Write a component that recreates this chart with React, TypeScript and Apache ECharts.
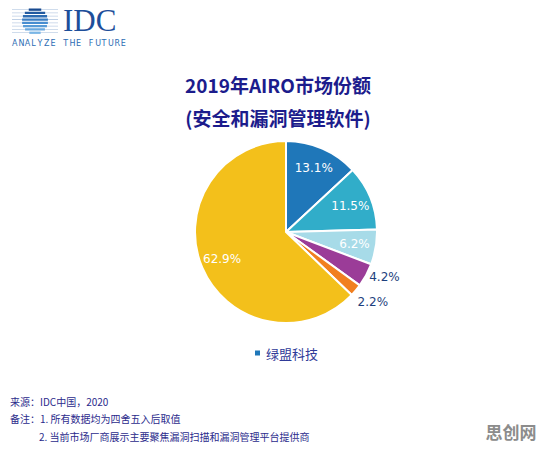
import React, { useEffect, useRef } from "react";
import * as echarts from "echarts";

const categories = ["绿盟科技", "厂商B", "厂商C", "厂商D", "厂商E", "其他"];
const shares = [13.1, 11.5, 6.2, 4.2, 2.2, 62.9];
const colors = ["#1f77b9", "#31adc9", "#a7dbe8", "#9b3c98", "#f17f1f", "#f3c01b"];
const legendShown = ["绿盟科技"];
const titleLines = ["2019年AIRO市场份额", "(安全和漏洞管理软件)"];
const notes = ["来源：IDC中国，2020", "备注：1. 所有数据均为四舍五入后取值", "2. 当前市场厂商展示主要聚焦漏洞扫描和漏洞管理平台提供商"];
const outsideIdx = [3, 4];

export default function App() {
  const ref = useRef<HTMLDivElement>(null);
  useEffect(() => {
    if (!ref.current) return;
    const chart = echarts.init(ref.current, null, { renderer: "svg" });
    const CX = 286, CY = 232, R = 91;
    const fmt = (p: any) => p.value.toFixed(1) + "%";

    const mainData = categories.map((n, i) => ({
      name: n,
      value: shares[i],
      itemStyle: { color: colors[i] },
      label: outsideIdx.includes(i)
        ? { show: true, position: "outside", color: "#1d3f7d", fontSize: 12, fontFamily: "DejaVu Sans", distanceToLabelLine: 0 }
        : { show: false },
      labelLine: { show: false, length: 3.5, length2: 0 },
    }));
    const ringData = categories.map((n, i) => ({
      name: n,
      value: shares[i],
      itemStyle: { color: "rgba(0,0,0,0)", borderWidth: 0 },
      label: { show: !outsideIdx.includes(i) },
    }));

    // logo
    const logo: any[] = [];
    const scx = 35, scy = 21, sr = 13;
    for (let i = 0; i < 8; i++) {
      const y = 8.5 + i * 3.3;
      logo.push({ type: "rect", shape: { x: 12, y: y + 0.7, width: 46, height: 0.8 }, style: { fill: "#bfd0e6" } });
      const d = y + 1.1 - scy;
      if (Math.abs(d) < sr) {
        const w = 2 * Math.sqrt(sr * sr - d * d);
        const t = i / 7;
        const c = echarts.color.lerp(t, ["#17498f", "#3f86cc", "#7ab6e6"]);
        logo.push({ type: "rect", shape: { x: scx - w / 2, y, width: w, height: 2.3 }, style: { fill: c } });
      }
    }
    logo.push({
      type: "text", x: 63, y: 20,
      style: { text: "IDC", font: "31px 'Liberation Serif'", fill: "#1d4e9a", verticalAlign: "middle", lineHeight: 24 },
    });
    const tag = "ANALYZE THE FUTURE";
    for (let i = 0; i < tag.length; i++) {
      if (tag[i] === " ") continue;
      logo.push({
        type: "text", x: 12 + i * 6.4, y: 43,
        style: { text: tag[i], font: "8px 'DejaVu Sans'", fill: "#2c6db4", verticalAlign: "middle" },
      });
    }

    const texts: any[] = [
      ...titleLines.map((t, i) => ({
        type: "text", x: 278, y: 84 + i * 33,
        style: { text: t, font: "bold 19px 'Noto Sans CJK SC'", fill: "#1c1c8c", align: "center", verticalAlign: "middle" },
      })),
      ...notes.map((t, i) => ({
        type: "text", x: i === 2 ? 39 : 10, y: 401 + i * 17.5,
        style: { text: t, font: "10px 'Noto Sans CJK SC'", fill: "#2b2b8c", verticalAlign: "middle" },
      })),
      {
        type: "text", x: 511, y: 431,
        style: { text: "思创网", font: "bold 17px 'Noto Sans CJK SC'", fill: "#8c8c8c", align: "center", verticalAlign: "middle" },
      },
    ];

    chart.setOption({
      animation: false,
      backgroundColor: "#ffffff",
      legend: {
        data: legendShown,
        left: 253,
        top: 346,
        padding: 0,
        icon: "rect",
        itemWidth: 7,
        itemHeight: 7,
        itemGap: 4,
        textStyle: { fontSize: 13, color: "#2f3a98", fontFamily: "Noto Sans CJK SC", lineHeight: 14 },
      },
      graphic: [...logo, ...texts],
      series: [
        {
          type: "pie",
          center: [CX, CY],
          radius: R,
          startAngle: 90,
          clockwise: true,
          avoidLabelOverlap: false,
          itemStyle: { borderColor: "#ffffff", borderWidth: 2 },
          label: { formatter: fmt },
          labelLayout: (p: any) => (p.dataIndex === 4 ? { dx: -1, dy: 9 } : {}),
          data: mainData,
        },
        {
          type: "pie",
          center: [CX, CY],
          radius: [42, R],
          startAngle: 90,
          clockwise: true,
          silent: true,
          avoidLabelOverlap: false,
          label: { position: "inside", color: "#ffffff", fontSize: 12, fontFamily: "DejaVu Sans", formatter: fmt },
          labelLine: { show: false },
          data: ringData,
        },
      ],
    });
    return () => chart.dispose();
  }, []);
  return <div ref={ref} style={{ position: "fixed", left: 0, top: 0, width: 546, height: 451 }} />;
}
